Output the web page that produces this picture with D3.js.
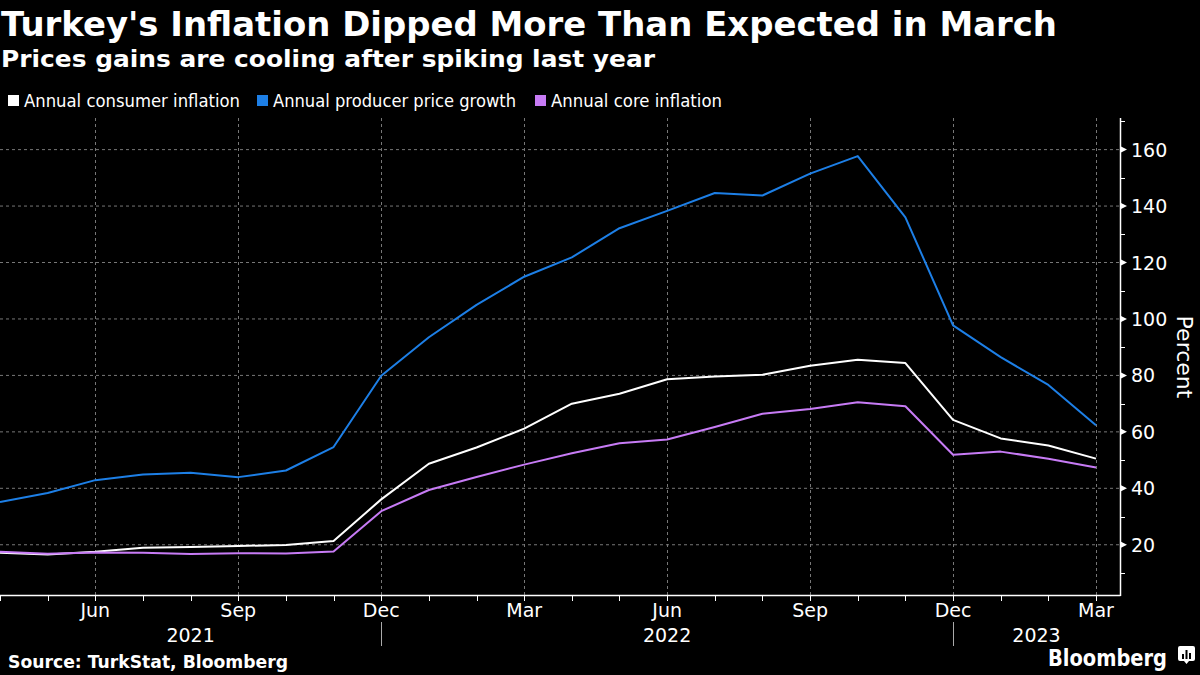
<!DOCTYPE html>
<html><head><meta charset="utf-8">
<script src="https://cdn.jsdelivr.net/npm/d3@7"></script>
<style>
html,body{margin:0;padding:0;background:#000;}
svg{display:block;}
text{font-family:"DejaVu Sans","Noto Sans",sans-serif;}
</style></head>
<body><svg id="c" width="1200" height="675"></svg>
<script>
const months = ["Apr","May","Jun","Jul","Aug","Sep","Oct","Nov","Dec","Jan","Feb","Mar","Apr","May","Jun","Jul","Aug","Sep","Oct","Nov","Dec","Jan","Feb","Mar"];
const consumer = [17.14,16.59,17.53,18.95,19.25,19.58,19.89,21.31,36.08,48.69,54.44,61.14,69.97,73.50,78.62,79.60,80.21,83.45,85.51,84.39,64.27,57.68,55.18,50.51];
const producer = [35.17,38.33,42.89,44.92,45.52,43.96,46.31,54.62,79.89,93.53,105.01,114.97,121.82,132.16,138.31,144.61,143.75,151.50,157.69,136.02,97.72,86.46,76.61,62.35];
const core = [17.5,16.8,17.3,17.2,16.7,17.0,16.9,17.6,31.9,39.4,44.0,48.4,52.4,56.0,57.3,61.7,66.4,68.1,70.5,69.1,51.9,53.0,50.5,47.4];
const seriesNames = ["Annual consumer inflation","Annual producer price growth","Annual core inflation"];
const seriesColors = ["#ffffff","#1d7fe6","#c77bf5"];
const yTicks = [20,40,60,80,100,120,140,160];
const yMinor = [10,30,50,70,90,110,130,150,170];
const quarterIdx = [2,5,8,11,14,17,20,23];
const years = [{label:"2021",from:0,to:8},{label:"2022",from:8,to:20},{label:"2023",from:20,to:23}];

const svg = d3.select("#c");
const W = 1200;
const plotL = 0, plotR = 1120, plotT = 118, plotB = 595;
const x = d3.scaleLinear().domain([0,23]).range([0,1096]);
const y = d3.scaleLinear().domain([2.2,171.2]).range([plotB,plotT]);

// title
svg.append("text").attr("x",1).attr("y",36).attr("fill","#fff").attr("font-weight","bold")
  .attr("font-size",33).attr("textLength",1056).attr("lengthAdjust","spacingAndGlyphs")
  .text("Turkey's Inflation Dipped More Than Expected in March");
svg.append("text").attr("x",1).attr("y",67).attr("fill","#fff").attr("font-weight","bold")
  .attr("font-size",23).attr("textLength",654).attr("lengthAdjust","spacingAndGlyphs")
  .text("Prices gains are cooling after spiking last year");

// legend
const legX = [8,257,535], legW=[216,243,171];
seriesNames.forEach((n,i)=>{
  svg.append("rect").attr("x",legX[i]).attr("y",95).attr("width",11).attr("height",11).attr("fill",seriesColors[i]);
  svg.append("text").attr("x",legX[i]+16).attr("y",107).attr("fill","#fff").attr("font-size",17)
    .attr("textLength",legW[i]).attr("lengthAdjust","spacingAndGlyphs").text(n);
});

// grid
const g = svg.append("g");
g.selectAll(".hg").data(yTicks).join("line")
  .attr("x1",plotL).attr("x2",plotR).attr("y1",d=>y(d)).attr("y2",d=>y(d))
  .attr("stroke","#777").attr("stroke-width",1).attr("stroke-dasharray","3,3");
g.selectAll(".vg").data(quarterIdx).join("line")
  .attr("x1",d=>Math.round(x(d))+0.5).attr("x2",d=>Math.round(x(d))+0.5).attr("y1",plotT).attr("y2",plotB)
  .attr("stroke","#777").attr("stroke-width",1).attr("stroke-dasharray","3,3");

// x axis
const xa = svg.append("g");
xa.append("line").attr("x1",0).attr("x2",plotR+0.5).attr("y1",plotB+0.5).attr("y2",plotB+0.5).attr("stroke","#fff").attr("stroke-width",1.5);
xa.selectAll(".xt").data(d3.range(24)).join("line")
  .attr("x1",d=>Math.round(x(d))+0.5).attr("x2",d=>Math.round(x(d))+0.5).attr("y1",plotB).attr("y2",plotB+6)
  .attr("stroke","#fff").attr("stroke-width",1);
xa.selectAll(".xl").data(quarterIdx).join("text")
  .attr("x",d=>x(d)).attr("y",617).attr("text-anchor","middle").attr("fill","#fff")
  .attr("font-family","Open Sans, sans-serif").attr("font-size",19).text(d=>months[d]);
xa.selectAll(".yl").data(years).join("text")
  .attr("x",d=>(x(d.from)+ (d.label==="2023"?plotR:x(d.to)))/2).attr("y",642).attr("text-anchor","middle").attr("fill","#fff")
  .attr("font-family","Open Sans, sans-serif").attr("font-size",19).text(d=>d.label);
xa.selectAll(".ys").data(years.slice(1)).join("line")
  .attr("x1",d=>Math.round(x(d.from))+0.5).attr("x2",d=>Math.round(x(d.from))+0.5).attr("y1",622).attr("y2",646)
  .attr("stroke","#aaa").attr("stroke-width",1);

// y axis
const ya = svg.append("g");
ya.append("line").attr("x1",plotR+0.5).attr("x2",plotR+0.5).attr("y1",plotT).attr("y2",plotB+1).attr("stroke","#fff").attr("stroke-width",1.5);
ya.selectAll(".ym").data(yMinor).join("line")
  .attr("x1",plotR).attr("x2",plotR+5).attr("y1",d=>Math.round(y(d))+0.5).attr("y2",d=>Math.round(y(d))+0.5)
  .attr("stroke","#fff").attr("stroke-width",1);
ya.selectAll(".tri").data(yTicks).join("path")
  .attr("d",d=>`M${plotR},${y(d)-3.5}L${plotR+7},${y(d)}L${plotR},${y(d)+3.5}Z`).attr("fill","#fff");
ya.selectAll(".ytl").data(yTicks).join("text")
  .attr("x",plotR+11).attr("y",d=>y(d)+7).attr("fill","#fff")
  .attr("font-family","Open Sans, sans-serif").attr("font-size",19).text(d=>d);
svg.append("text").attr("transform","translate(1177,357) rotate(90)").attr("text-anchor","middle")
  .attr("fill","#fff").attr("font-family","Open Sans, sans-serif").attr("font-size",22).text("Percent");

// lines
const line = d3.line().x((d,i)=>x(i)).y(d=>y(d));
[producer,consumer,core].forEach((s,k)=>{
  const ci = [1,0,2][k];
  svg.append("path").datum(s).attr("d",line).attr("fill","none")
    .attr("stroke",seriesColors[ci]).attr("stroke-width",2).attr("stroke-linejoin","round");
});

// footer
svg.append("text").attr("x",8).attr("y",668).attr("fill","#fff").attr("font-weight","bold")
  .attr("font-size",17).attr("textLength",280).attr("lengthAdjust","spacingAndGlyphs").text("Source: TurkStat, Bloomberg");
svg.append("text").attr("x",1048).attr("y",666).attr("fill","#fff").attr("font-weight","bold")
  .attr("font-family","Open Sans, sans-serif").attr("font-size",23).attr("textLength",119).attr("lengthAdjust","spacingAndGlyphs").text("Bloomberg");
const ic = svg.append("g").attr("transform","translate(1178,646)");
ic.append("path").attr("d","M0,2Q0,0 2,0H15Q17,0 17,2V13Q17,15 15,15H11L8.5,18L6,15H2Q0,15 0,13Z").attr("fill","#fff");
[[4,8,2,5],[7.5,4,2,9],[11,7,2,6]].forEach(b=>ic.append("rect").attr("x",b[0]).attr("y",b[1]).attr("width",b[2]).attr("height",b[3]).attr("fill","#000"));
</script></body></html>
